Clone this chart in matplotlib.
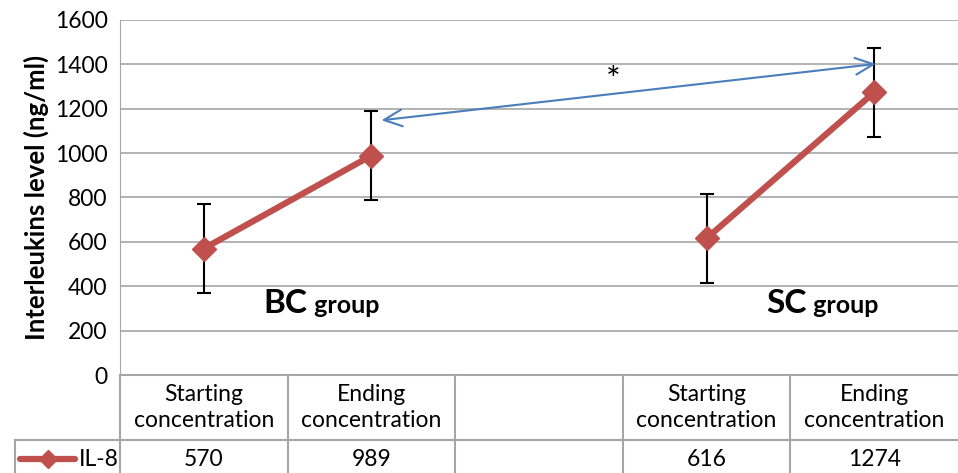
import matplotlib
matplotlib.use("Agg")
import matplotlib.pyplot as plt
from matplotlib.lines import Line2D
from matplotlib.transforms import blended_transform_factory

plt.rcParams['font.family'] = ['Lato', 'DejaVu Sans']

categories = ["Starting\nconcentration", "Ending\nconcentration", "",
              "Starting\nconcentration", "Ending\nconcentration"]
series_name = "IL-8"
values = [570, 989, None, 616, 1274]
errors = [200, 200, None, 200, 200]
group_labels = ["BC", "SC"]
group_label_pos = [(0.62, 280), (3.6, 280)]  # (category index, value)
arrow_from = (1.06, 1148)
arrow_to = (4.01, 1402)
star_pos = (2.44, 1325)
yticks = [0, 200, 400, 600, 800, 1000, 1200, 1400, 1600]

red = "#C0504D"
blue = "#4A7EBB"
grid_c = "#A6A6A6"

fig = plt.figure(figsize=(9.58, 4.73), dpi=100)
L, R, B, T = 120/958, 958/958, 1-375/473, 1-20/473
ax = fig.add_axes([L, B, R-L, T-B])
ax.set_xlim(-0.5, len(categories)-0.5)
ax.set_ylim(0, 1600)
ax.set_yticks(yticks)
ax.tick_params(axis='y', length=0, labelsize=16.5, pad=9)
ax.set_xticks([])
for s in ['top', 'right', 'bottom']:
    ax.spines[s].set_visible(False)
ax.spines['left'].set_color(grid_c)
ax.spines['left'].set_bounds(0, 1600)
ax.yaxis.grid(True, color=grid_c, lw=1.2)
ax.set_axisbelow(True)
ax.set_ylabel("Interleukins level (ng/ml)", fontsize=18.5, fontweight='bold', labelpad=4)

# series split into groups
for idxs in ([0, 1], [3, 4]):
    xs = idxs
    ys = [values[i] for i in idxs]
    es = [errors[i] for i in idxs]
    ax.errorbar(xs, ys, yerr=es, fmt='none', ecolor='black', elinewidth=1.5,
                capsize=5, capthick=1.5, zorder=3)
    ax.plot(xs, ys, color=red, lw=4.5, marker='D', markersize=12,
            markeredgecolor=red, zorder=4)

# group labels
for g, (gx, gy) in zip(group_labels, group_label_pos):
    ax.text(gx, gy, g, fontsize=24, fontweight='bold', ha='right', va='baseline')
    ax.text(gx, gy, " group", fontsize=18, fontweight='bold', ha='left', va='baseline')

# significance arrow
ax.annotate("", xy=arrow_to, xytext=arrow_from,
            arrowprops=dict(arrowstyle='<->,head_length=1.3,head_width=0.6',
                            color=blue, lw=1.5, shrinkA=0, shrinkB=0), zorder=5)
ax.text(star_pos[0], star_pos[1], "*", fontsize=25, ha='center', va='center')

# data table below axes
tr = blended_transform_factory(ax.transData, ax.transAxes)
axh = (T - B) * 473
h1 = -65/axh
h2 = -103/axh
ymid = -84/axh
xl = -0.5 - 105/838*5
n = len(categories)
kw = dict(color=grid_c, lw=1.5, clip_on=False, transform=tr)
ax.add_line(Line2D([-0.5, n-0.5], [0, 0], **kw))
ax.add_line(Line2D([xl, n-0.5], [h1, h1], **kw))
ax.add_line(Line2D([xl, xl], [h1, h2], **kw))
ax.add_line(Line2D([-0.5, -0.5], [0, h2], **kw))
for i in range(1, n):
    ax.add_line(Line2D([i-0.5, i-0.5], [0, h2], **kw))
for i, c in enumerate(categories):
    ax.text(i, h1/2, c, transform=tr, ha='center', va='center', fontsize=16.5,
            linespacing=1.25)
    if values[i] is not None:
        ax.text(i, ymid, str(values[i]), transform=tr, ha='center',
                va='center', fontsize=16.5)
# legend key in row label
ax.add_line(Line2D([xl+0.03, xl+0.36], [ymid, ymid], color=red, lw=4.5,
                   clip_on=False, transform=tr, solid_capstyle='round'))
ax.add_line(Line2D([xl+0.195], [ymid], color=red, marker='D', markersize=9,
                   clip_on=False, transform=tr))
ax.text(xl+0.38, ymid, series_name, transform=tr, ha='left', va='center', fontsize=16.5)

fig.savefig("out.png", dpi=100)
